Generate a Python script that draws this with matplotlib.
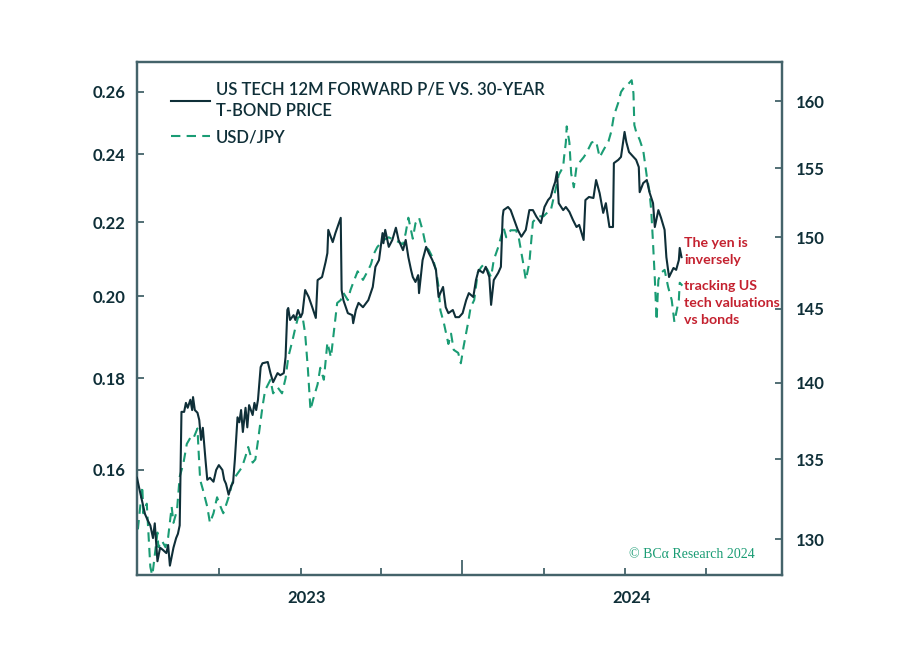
import matplotlib
matplotlib.use('Agg')
import matplotlib.pyplot as plt
import matplotlib.dates as mdates
import matplotlib.ticker as mticker
import matplotlib.transforms as mtransforms
import pandas as pd

# start date of the series, days are counted from here
start = pd.Timestamp('2022-07-01')

# US tech 12m forward P/E vs 30-year T-bond price (left axis)
pe_days = [0, 3, 9, 12, 15, 18, 20, 23, 26, 29, 33, 35, 37, 41, 44, 46, 48, 50, 53, 55,
           57, 60, 62, 63, 65, 68, 70, 72, 74, 77, 79, 82, 86, 89, 92, 96, 98, 100, 103, 106,
           108, 110, 113, 115, 117, 119, 122, 124, 126, 130, 132, 134, 136, 139, 141, 147, 150, 153, 158, 161,
           165, 167, 169, 170, 172, 176, 178, 181, 184, 186, 189, 193, 197, 201, 203, 208, 212, 214, 215, 220,
           223, 229, 230, 232, 237, 242, 243, 246, 249, 254, 260, 265, 268, 272, 276, 277, 279, 283, 287, 291,
           294, 299, 302, 305, 308, 310, 313, 316, 317, 321, 325, 328, 332, 336, 339, 344, 347, 350, 355, 358,
           362, 366, 370, 373, 378, 381, 384, 389, 392, 396, 398, 401, 406, 409, 411, 412, 417, 420, 424, 428,
           432, 437, 441, 445, 449, 454, 458, 462, 465, 468, 470, 472, 474, 479, 482, 486, 490, 494, 497, 502,
           504, 508, 513, 516, 520, 524, 527, 531, 535, 536, 541, 544, 548, 550, 553, 558, 561, 564, 565, 569,
           573, 576, 580, 582, 586, 589, 593, 595, 598, 603, 606, 609, 610, 612]
pe_ratio = [.1584, .1559, .1512, .1500, .1490, .1466, .1494, .1423, .1448, .1444, .1438, .1453, .1415, .1448, .1466, .1474, .1490, .1724, .1724, .1744,
            .1733, .1751, .1728, .1757, .1728, .1722, .1706, .1663, .1689, .1621, .1580, .1584, .1576, .1600, .1610, .1600, .1580, .1572, .1550, .1568,
            .1574, .1621, .1712, .1701, .1728, .1680, .1733, .1690, .1739, .1717, .1744, .1728, .1751, .1826, .1835, .1838, .1812, .1791, .1812, .1807,
            .1812, .1850, .1965, .1970, .1940, .1952, .1940, .1965, .1947, .1957, .2016, .1998, .1972, .1945, .2042, .2050, .2090, .2114, .2178, .2144,
            .2169, .2212, .2016, .1990, .1957, .1952, .1932, .1965, .1983, .1972, .1990, .2024, .2077, .2095, .2169, .2141, .2178, .2131, .2150, .2184,
            .2150, .2122, .2150, .2103, .2069, .2050, .2037, .2055, .2008, .2095, .2131, .2114, .2095, .2069, .1998, .2024, .1972, .1957, .1965, .1947,
            .1947, .1957, .1990, .2008, .1998, .2042, .2069, .2061, .2077, .2050, .1978, .2042, .2061, .2077, .2215, .2234, .2243, .2234, .2206, .2178,
            .2159, .2178, .2234, .2234, .2215, .2197, .2243, .2263, .2272, .2301, .2316, .2346, .2254, .2234, .2243, .2229, .2206, .2186, .2192, .2150,
            .2263, .2272, .2269, .2322, .2283, .2226, .2254, .2186, .2186, .2373, .2383, .2392, .2470, .2438, .2407, .2392, .2383, .2361, .2286, .2313,
            .2322, .2286, .2254, .2186, .2234, .2212, .2178, .2103, .2050, .2074, .2069, .2095, .2128, .2103]

# USD/JPY (right axis)
fx_days = [1, 6, 7, 11, 15, 17, 18, 23, 24, 28, 32, 35, 39, 41, 45, 48, 52, 56, 60, 63,
           68, 69, 71, 74, 79, 82, 86, 90, 94, 97, 103, 108, 113, 118, 122, 125, 130, 133, 136, 141,
           144, 150, 153, 158, 163, 167, 170, 175, 178, 181, 186, 189, 192, 195, 198, 203, 206, 210, 214, 218,
           221, 225, 229, 232, 237, 240, 243, 248, 254, 260, 263, 266, 270, 274, 277, 283, 289, 293, 299, 302,
           305, 310, 313, 317, 321, 325, 328, 332, 336, 339, 341, 345, 350, 353, 356, 361, 364, 367, 372, 375,
           379, 383, 387, 390, 394, 398, 401, 406, 409, 412, 415, 420, 426, 429, 434, 437, 441, 443, 445, 451,
           457, 460, 465, 471, 474, 479, 480, 482, 483, 486, 488, 491, 494, 497, 502, 505, 511, 516, 520, 524,
           530, 533, 536, 541, 544, 548, 552, 556, 558, 559, 561, 565, 569, 573, 576, 578, 580, 582, 584, 586,
           589, 593, 597, 601, 604, 609, 610, 613]
usdjpy = [130.6, 133.3, 131.6, 132.2, 128.3, 127.8, 128.1, 130.4, 129.5, 129.9, 129.5, 130.1, 132.0, 131.0, 131.8, 133.9, 134.7, 136.0, 136.4, 136.3,
          137.0, 135.8, 133.7, 133.1, 132.0, 131.0, 131.6, 132.6, 132.0, 131.6, 132.6, 133.7, 134.1, 134.5, 135.2, 135.8, 134.8, 135.0, 136.2, 138.4,
          139.5, 140.2, 139.3, 139.7, 139.3, 140.3, 141.7, 142.9, 143.7, 144.4, 144.5, 143.3, 141.0, 138.2, 138.9, 139.9, 141.0, 140.2, 142.7, 141.7,
          143.3, 145.4, 145.6, 146.1, 145.6, 146.3, 146.8, 147.6, 147.0, 147.7, 148.1, 148.8, 149.3, 149.6, 149.8, 150.0, 149.8, 149.7, 149.5, 150.3,
          151.4, 149.9, 151.0, 151.4, 150.5, 149.3, 149.1, 148.6, 147.7, 146.5, 144.9, 144.0, 142.6, 143.3, 142.2, 142.0, 141.3, 142.4, 144.0, 145.1,
          145.6, 147.5, 147.9, 148.1, 147.7, 147.2, 148.4, 149.3, 150.0, 150.7, 150.0, 150.5, 150.5, 150.0, 148.2, 147.0, 148.2, 149.6, 151.1, 151.5,
          151.5, 151.7, 151.9, 153.6, 154.5, 155.1, 155.8, 156.9, 158.1, 156.9, 154.6, 153.6, 155.1, 155.4, 155.8, 156.1, 156.9, 157.0, 155.8, 156.3,
          157.0, 157.7, 158.9, 159.9, 160.7, 161.1, 161.3, 161.6, 160.6, 158.2, 157.7, 157.1, 156.3, 154.4, 153.3, 151.9, 149.6, 147.1, 144.2, 147.0,
          147.5, 147.7, 146.5, 145.6, 144.1, 145.6, 146.8, 146.6]

left_ticks = [0.16, 0.18, 0.20, 0.22, 0.24, 0.26]
right_ticks = [130, 135, 140, 145, 150, 155, 160]

pe_dates = start + pd.to_timedelta(pe_days, unit='D')
fx_dates = start + pd.to_timedelta(fx_days, unit='D')

dark = '#0f2f38'
green = '#1a9c74'
red = '#c4212f'
spine_col = '#44636a'
font = ['Lato', 'DejaVu Sans']

plt.rcParams['font.family'] = font

fig = plt.figure(figsize=(9.12, 6.53), dpi=100)
ax = fig.add_axes([0.1502, 0.1194, 0.7073, 0.7856])
ax2 = ax.twinx()

ln1, = ax.plot(pe_dates, pe_ratio, color=dark, lw=1.5, zorder=3,
               label='US TECH 12M FORWARD P/E VS. 30-YEAR\nT-BOND PRICE')
ln2, = ax2.plot(fx_dates, usdjpy, color=green, lw=1.5, ls=(0, (4.5, 3)),
                label='USD/JPY')
ax.set_zorder(ax2.get_zorder() + 1)
ax.patch.set_visible(False)

ax.set_yscale('log')
ax2.set_yscale('log')
ax.set_ylim(0.1398, 0.2702)
ax2.set_ylim(127.8, 163.0)
ax.set_xlim(pd.Timestamp('2022-07-01'), pd.Timestamp('2024-06-25'))

ax.yaxis.set_major_locator(mticker.FixedLocator(left_ticks))
ax.yaxis.set_major_formatter(mticker.FixedFormatter(['%.2f' % t for t in left_ticks]))
ax.yaxis.set_minor_locator(mticker.NullLocator())
ax2.yaxis.set_major_locator(mticker.FixedLocator(right_ticks))
ax2.yaxis.set_major_formatter(mticker.FixedFormatter([str(t) for t in right_ticks]))
ax2.yaxis.set_minor_locator(mticker.NullLocator())

# quarters as short ticks, year label on the January one, long tick mid-year
ax.xaxis.set_minor_locator(mdates.MonthLocator(bymonth=[1, 4, 7, 10]))
ax.xaxis.set_minor_formatter(mticker.FuncFormatter(
    lambda v, p: str(mdates.num2date(v).year) if mdates.num2date(v).month == 1 else ''))
ax.xaxis.set_major_locator(mdates.MonthLocator(bymonth=[7]))
ax.xaxis.set_major_formatter(mticker.NullFormatter())

for a in (ax, ax2):
    for s in a.spines.values():
        s.set_color(spine_col)
        s.set_linewidth(1.6)

ax.tick_params(axis='y', direction='in', length=5, width=1.3, color=spine_col,
               labelsize=12, labelcolor=dark, pad=8)
ax2.tick_params(axis='y', direction='in', length=5, width=1.3, color=spine_col,
                labelsize=12, labelcolor=dark, pad=10)
ax.tick_params(axis='x', which='minor', direction='in', length=5, width=1.3,
               color=spine_col, labelsize=12, labelcolor=dark, pad=11)
ax.tick_params(axis='x', which='major', direction='in', length=11, width=1.3,
               color=spine_col)
shift = mtransforms.ScaledTranslation(6 / 100, 0, fig.dpi_scale_trans)
for lab in ax.get_xticklabels(minor=True):
    lab.set_fontweight('bold')
    lab.set_transform(lab.get_transform() + shift)
for lab in ax.get_yticklabels() + ax2.get_yticklabels():
    lab.set_fontweight('bold')

leg = ax.legend(handles=[ln1, ln2], loc='upper left', bbox_to_anchor=(0.035, 0.985),
                frameon=False, fontsize=12, handlelength=2.3, handletextpad=0.4,
                labelspacing=0.6, borderaxespad=0.3)
for t in leg.get_texts():
    t.set_color(dark)
    t.set_fontweight('semibold')
    t.set_linespacing(1.45)

ax.text(0.848, 0.658, 'The yen is\ninversely', transform=ax.transAxes, color=red,
        fontsize=10.2, fontweight='bold', va='top', ha='left', linespacing=1.5)
ax.text(0.848, 0.575, 'tracking US\ntech valuations\nvs bonds', transform=ax.transAxes,
        color=red, fontsize=10.2, fontweight='bold', va='top', ha='left', linespacing=1.5)

ax.text(0.957, 0.04, '\u00a9 BC\u03b1 Research 2024', transform=ax.transAxes, color=green,
        fontsize=10, family=['Liberation Serif', 'DejaVu Serif'], ha='right', va='center')

fig.savefig('out.png', dpi=100)
